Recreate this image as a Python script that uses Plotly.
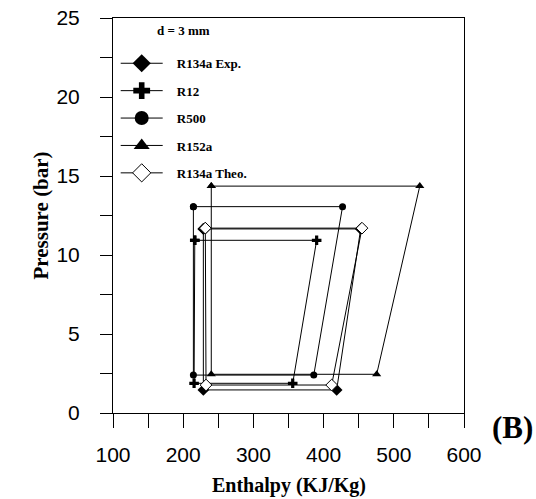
import plotly.graph_objects as go

# Enthalpy (KJ/Kg) and Pressure (bar) for each closed cycle:
# condenser exit -> compressor discharge -> evaporator exit -> after expansion -> back
r134a_exp_h = [228.7, 452.8, 418.6, 228.7, 228.7]
r134a_exp_p = [11.65, 11.65, 1.46, 1.46, 11.65]

r12_h = [216.5, 390.1, 356.0, 215.5, 216.5]
r12_p = [10.93, 10.93, 1.88, 1.88, 10.93]

r500_h = [214.5, 427.0, 386.0, 214.5, 214.5]
r500_p = [13.06, 13.06, 2.40, 2.40, 13.06]

r152a_h = [240.0, 537.0, 475.6, 240.0, 240.0]
r152a_p = [14.36, 14.36, 2.45, 2.45, 14.36]

r134a_theo_h = [231.5, 454.7, 411.5, 232.5, 231.5]
r134a_theo_p = [11.70, 11.70, 1.77, 1.77, 11.70]

series_names = ["R134a Exp.", "R12", "R500", "R152a", "R134a Theo."]
x_ticks = [100, 200, 300, 400, 500, 600]
y_ticks = [0, 5, 10, 15, 20, 25]

serif = "Liberation Serif"
sans = "Liberation Sans"

# page body margin is removed below, so figure pixels == screenshot pixels
# plot area in pixels: x 113..464, y 18..413
L, R, T, B = 113, 464, 18, 413
PW, PH = R - L, B - T


def px(xs):
    return (xs - L) / PW


def py(ys):
    return (B - ys) / PH


styles = [
    (r134a_exp_h, r134a_exp_p, dict(symbol="diamond", size=9, color="black")),
    (r12_h, r12_p, dict(symbol="cross", size=8, color="black")),
    (r500_h, r500_p, dict(symbol="circle", size=7, color="black")),
    (r152a_h, r152a_p, dict(symbol="triangle-up", size=8, color="black")),
    (r134a_theo_h, r134a_theo_p, dict(symbol="diamond", size=9, color="white",
                                      line=dict(color="black", width=1))),
]

fig = go.Figure()
for name, (h, p, mk) in zip(series_names, styles):
    fig.add_trace(go.Scatter(
        x=h, y=p, mode="lines+markers", name=name, showlegend=False,
        line=dict(color="black", width=1), marker=mk, cliponaxis=False))
# legend entries (bigger markers)
for name, (h, p, mk) in zip(series_names, styles):
    lm = dict(mk)
    lm["size"] = 14
    fig.add_trace(go.Scatter(
        x=[None], y=[None], mode="lines+markers",
        name="\u2002\u2009" + name, legendgroup=name,
        line=dict(color="black", width=1), marker=lm))

fig.update_layout(
    width=536, height=499,
    margin=dict(l=L, r=536 - R, t=T, b=499 - B, autoexpand=False),
    paper_bgcolor="white", plot_bgcolor="white",
    showlegend=True,
    legend=dict(x=px(115.7), y=py(48.3), xanchor="left", yanchor="top",
                bgcolor="rgba(0,0,0,0)", borderwidth=0,
                font=dict(family=serif, size=13, color="black", weight="bold"),
                tracegroupgap=7.5, itemwidth=42),
    annotations=[
        dict(text="<b>d = 3 mm</b>", x=px(155), y=py(30.6),
             xref="paper", yref="paper", xanchor="left", yanchor="middle",
             showarrow=False, font=dict(family=serif, size=13, color="black")),
        dict(text="<b>(B)</b>", x=px(512), y=py(427), xref="paper", yref="paper",
             xanchor="center", yanchor="middle",
             showarrow=False, font=dict(family=serif, size=31, color="black")),
        dict(text="<b>Enthalpy (KJ/Kg)</b>", x=0.5, y=py(485), xref="paper",
             yref="paper", xanchor="center", yanchor="middle", showarrow=False,
             font=dict(family=serif, size=20, color="black")),
        dict(text="<b>Pressure (bar)</b>", x=px(40), y=py(215.5), xref="paper",
             yref="paper", xanchor="center", yanchor="middle", textangle=-90,
             showarrow=False, font=dict(family=serif, size=21, color="black")),
    ],
)

fig.update_xaxes(
    range=[100, 600], tickvals=x_ticks, ticks="outside", ticklen=14, tickcolor="black",
    minor=dict(dtick=50, ticks="outside", ticklen=14, tickcolor="black"),
    showline=True, linecolor="black", linewidth=1, mirror=True, showgrid=False,
    zeroline=False, automargin=False, ticklabelstandoff=9, ticklabeloverflow="allow",
    tickfont=dict(family=sans, size=21, color="black"))
fig.update_yaxes(
    range=[0, 25], tickvals=y_ticks, ticks="outside", ticklen=12, tickcolor="black",
    minor=dict(dtick=2.5, ticks="outside", ticklen=12, tickcolor="black"),
    showline=True, linecolor="black", linewidth=1, mirror=True, showgrid=False,
    zeroline=False, automargin=False, ticklabelstandoff=16, ticklabeloverflow="allow",
    tickfont=dict(family=sans, size=21, color="black"))

fig.write_html("out.html",
               config={"displayModeBar": False},
               post_script="document.body.style.margin='0';"
                           "document.body.style.overflow='hidden';")
